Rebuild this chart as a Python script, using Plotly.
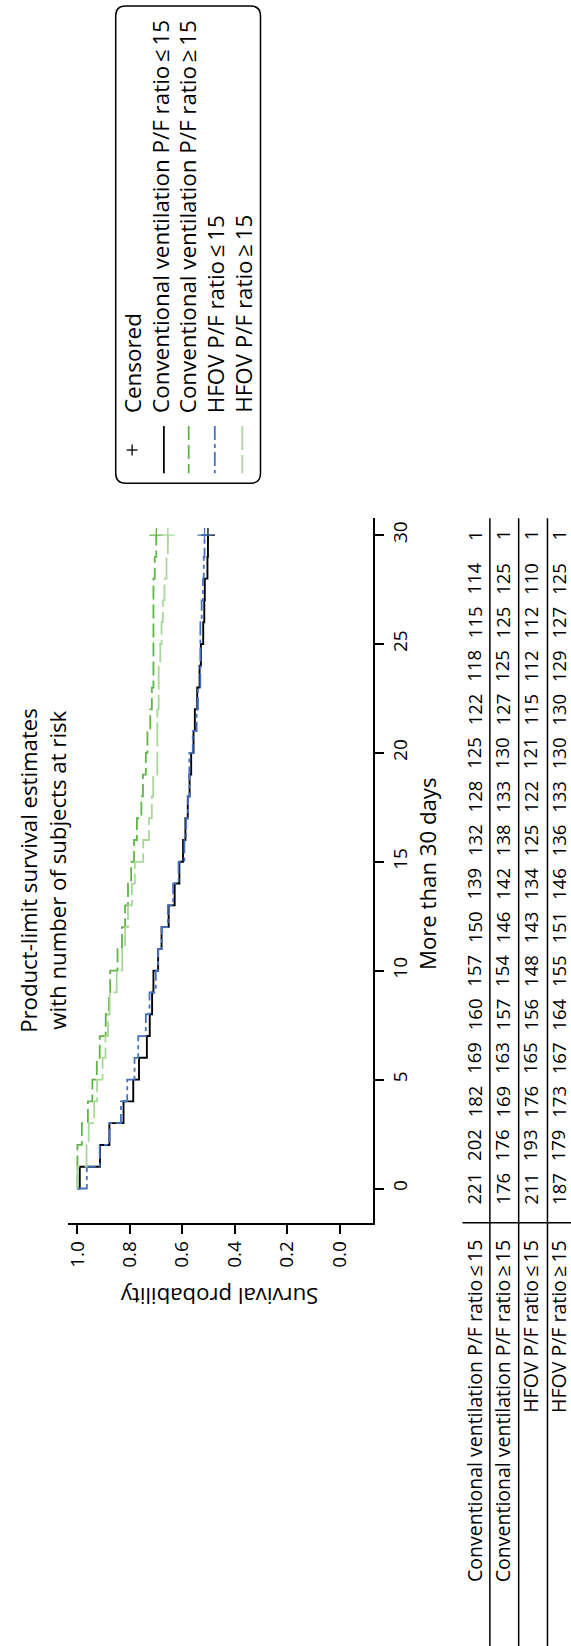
import plotly.graph_objects as go

W, H = 571, 1646
FONT = "Open Sans"

# ---------------- data ----------------
days = list(range(0, 31))

surv_conv_le15 = [0.991, 0.914, 0.878, 0.824, 0.787, 0.765, 0.735, 0.724, 0.715, 0.710,
                  0.692, 0.679, 0.652, 0.629, 0.611, 0.597, 0.588, 0.579, 0.572, 0.566,
                  0.557, 0.552, 0.543, 0.534, 0.529, 0.520, 0.516, 0.514, 0.504, 0.502, 0.502]
surv_conv_ge15 = [1.000, 1.000, 0.983, 0.960, 0.943, 0.926, 0.915, 0.892, 0.880, 0.875,
                  0.847, 0.830, 0.818, 0.807, 0.795, 0.784, 0.773, 0.756, 0.750, 0.739,
                  0.733, 0.722, 0.716, 0.710, 0.710, 0.710, 0.710, 0.710, 0.705, 0.699, 0.699]
surv_hfov_le15 = [0.964, 0.915, 0.877, 0.834, 0.810, 0.782, 0.768, 0.739, 0.725, 0.701,
                  0.692, 0.678, 0.655, 0.635, 0.614, 0.592, 0.585, 0.578, 0.573, 0.573,
                  0.560, 0.545, 0.540, 0.531, 0.531, 0.531, 0.526, 0.521, 0.518, 0.515, 0.515]
surv_hfov_ge15 = [1.000, 0.965, 0.957, 0.936, 0.925, 0.904, 0.893, 0.883, 0.877, 0.850,
                  0.829, 0.818, 0.807, 0.792, 0.781, 0.749, 0.727, 0.716, 0.711, 0.695,
                  0.695, 0.695, 0.690, 0.690, 0.684, 0.679, 0.674, 0.668, 0.660, 0.655, 0.655]

group_names = ["Conventional ventilation P/F ratio\u2009\u2264\u200915",
               "Conventional ventilation P/F ratio\u2009\u2265\u200915",
               "HFOV P/F ratio\u2009\u2264\u200915",
               "HFOV P/F ratio\u2009\u2265\u200915"]
survival = [surv_conv_le15, surv_conv_ge15, surv_hfov_le15, surv_hfov_ge15]
colors = ["#000000", "#5fb546", "#4472c4", "#a8d899"]
dashes = ["solid", "14px,5px", "14px,4px,4px,4px", "24px,5px"]

risk_days = [0, 2, 4, 6, 8, 10, 12, 14, 16, 18, 20, 22, 24, 26, 28, 30]
risk_conv_le15 = [221, 202, 182, 169, 160, 157, 150, 139, 132, 128, 125, 122, 118, 115, 114, 1]
risk_conv_ge15 = [176, 176, 169, 163, 157, 154, 146, 142, 138, 133, 130, 127, 125, 125, 125, 1]
risk_hfov_le15 = [211, 193, 176, 165, 156, 148, 143, 134, 125, 122, 121, 115, 112, 112, 110, 1]
risk_hfov_ge15 = [187, 179, 173, 167, 164, 155, 151, 146, 136, 133, 130, 130, 129, 127, 125, 1]
at_risk = [risk_conv_le15, risk_conv_ge15, risk_hfov_le15, risk_hfov_ge15]

prob_ticks = [0.0, 0.2, 0.4, 0.6, 0.8, 1.0]
prob_tick_labels = ["0.0", "0.2", "0.4", "0.6", "0.8", "1.0"]
day_ticks = [0, 5, 10, 15, 20, 25, 30]
day_tick_labels = ["0", "5", "10", "15", "20", "25", "30"]

title_lines = ["Product-limit survival estimates", "with number of subjects at risk"]
x_title = "More than 30 days"
y_title = "Survival probability"

# ---------------- helpers (pixel -> paper) ----------------
def X(p):
    return p / W

def Y(p):
    return 1 - p / H

fig = go.Figure()

# curves (rotated: x = survival, y = days)
for s, c, d in zip(survival, colors, dashes):
    fig.add_trace(go.Scatter(
        x=[1.0] + s, y=[0] + days, mode="lines", line_shape="vh",
        line=dict(color=c, width=1.8 if c != "#000000" else 1.9, dash=d),
        hoverinfo="skip"))
# censored marks at end of follow-up
for s, c in zip(survival, colors):
    fig.add_trace(go.Scatter(
        x=[s[-1]], y=[days[-1]], mode="markers",
        marker=dict(symbol="cross-thin", size=10, line=dict(color=c, width=1.3)),
        hoverinfo="skip", cliponaxis=False))

axis_common = dict(showgrid=False, zeroline=False, showline=True, linecolor="black",
                   linewidth=1.6, ticks="outside", ticklen=9, tickwidth=1.6,
                   tickcolor="black", tickangle=-90,
                   tickfont=dict(family=FONT, size=19, color="black"))

fig.update_layout(
    width=W, height=H, margin=dict(l=0, r=0, t=0, b=0),
    paper_bgcolor="white", plot_bgcolor="white", showlegend=False,
    font=dict(family=FONT, color="black"),
    xaxis=dict(domain=[X(64), X(371.7)], range=[1.0376, -0.128],
               tickvals=prob_ticks, ticktext=prob_tick_labels, side="bottom",
               anchor="y", **axis_common),
    yaxis=dict(domain=[Y(1222.7), Y(518.3)], range=[-1.57, 30.77],
               tickvals=day_ticks, ticktext=day_tick_labels, side="right",
               anchor="x", **axis_common),
)

annotations = []
shapes = []

def txt(text, x, y, size, angle=-90, xanchor="center", yanchor="middle",
        xref="paper", yref="paper"):
    annotations.append(dict(text=text, x=x, y=y, xref=xref, yref=yref,
                            showarrow=False, textangle=angle,
                            xanchor=xanchor, yanchor=yanchor,
                            font=dict(family=FONT, size=size, color="black")))

# title
txt(title_lines[0], X(24), Y(870), 22.2)
txt(title_lines[1], X(53), Y(870), 22.2)
# axis titles
txt(x_title, X(426), Y(874), 22.2)
txt(y_title, X(216.7), Y(1297), 22.2, angle=180)

# legend box (rounded)
x0, x1, y0, y1, r = 112.5, 258.3, 6, 483.3, 10
path = (f"M {X(x0 + r)},{Y(y0)} L {X(x1 - r)},{Y(y0)} Q {X(x1)},{Y(y0)} {X(x1)},{Y(y0 + r)} "
        f"L {X(x1)},{Y(y1 - r)} Q {X(x1)},{Y(y1)} {X(x1 - r)},{Y(y1)} "
        f"L {X(x0 + r)},{Y(y1)} Q {X(x0)},{Y(y1)} {X(x0)},{Y(y1 - r)} "
        f"L {X(x0)},{Y(y0 + r)} Q {X(x0)},{Y(y0)} {X(x0 + r)},{Y(y0)} Z")
shapes.append(dict(type="path", path=path, xref="paper", yref="paper",
                   line=dict(color="black", width=1.5)))
# legend: censored plus
shapes.append(dict(type="line", xref="paper", yref="paper", x0=X(123.5), x1=X(134.5),
                   y0=Y(450), y1=Y(450), line=dict(color="black", width=1.3)))
shapes.append(dict(type="line", xref="paper", yref="paper", x0=X(129), x1=X(129),
                   y0=Y(444.5), y1=Y(455.5), line=dict(color="black", width=1.3)))
txt("Censored", X(129), Y(415), 22.4, yanchor="bottom")
legend_line_x = [161, 186, 212.3, 240]
legend_text_x = [157.5, 185, 212.8, 240.5]
for name, c, d, lx, tx in zip(group_names, colors, dashes, legend_line_x, legend_text_x):
    shapes.append(dict(type="line", xref="paper", yref="paper", x0=X(lx), x1=X(lx),
                       y0=Y(426), y1=Y(473.3), line=dict(color=c, width=1.8, dash=d)))
    txt(name, X(tx), Y(415), 22.4, yanchor="bottom")

# at-risk table
row_x = [473.3, 501.7, 530, 558.3]
for name, counts, rx in zip(group_names, at_risk, row_x):
    txt(name, X(rx), Y(1238), 19.5, yanchor="top")
    for dday, n in zip(risk_days, counts):
        txt(str(n), X(rx), dday, 18.5, yref="y")
for lx in [489.3, 518.3, 547.3]:
    shapes.append(dict(type="line", xref="paper", yref="paper", x0=X(lx), x1=X(lx),
                       y0=Y(518.3), y1=Y(1646), line=dict(color="black", width=1.5)))
shapes.append(dict(type="line", xref="paper", yref="paper", x0=X(461.7), x1=X(571),
                   y0=Y(1222.7), y1=Y(1222.7), line=dict(color="black", width=1.5)))

fig.update_layout(annotations=annotations, shapes=shapes)
fig.write_html("out.html")
